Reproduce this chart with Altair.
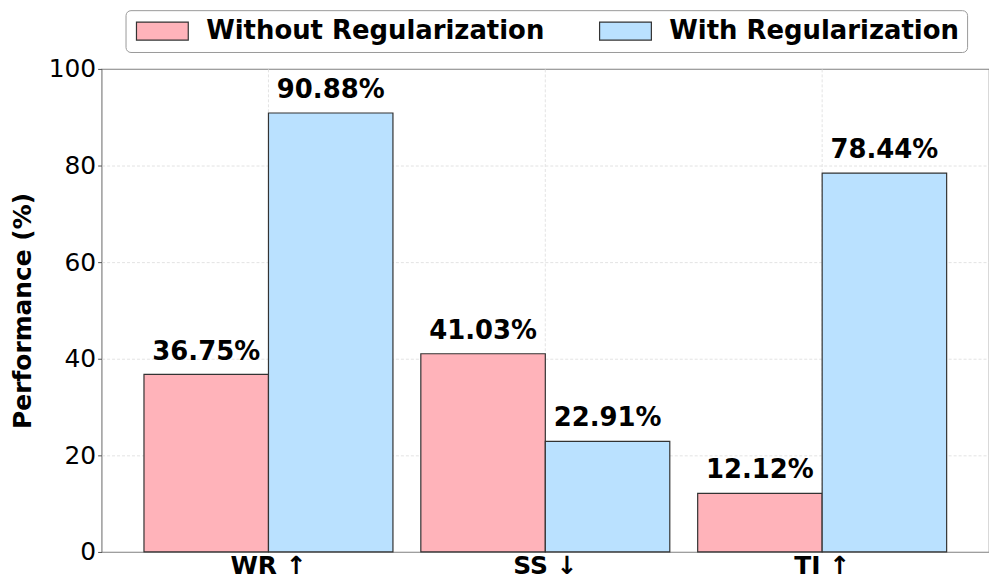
import altair as alt
import pandas as pd

metrics = ["WR ↑", "SS ↓", "TI ↑"]
series = ["Without Regularization", "With Regularization"]
without_vals = [36.75, 41.03, 12.12]
with_vals = [90.88, 22.91, 78.44]
colors = ["#FFB3BA", "#BAE1FF"]

rows = []
for m, a, b in zip(metrics, without_vals, with_vals):
    rows.append({"metric": m, "series": series[0], "value": a, "label": f"{a:.2f}%"})
    rows.append({"metric": m, "series": series[1], "value": b, "label": f"{b:.2f}%"})
df = pd.DataFrame(rows)

FONT = "DejaVu Sans"

x_enc = alt.X("metric:N", sort=metrics,
              scale=alt.Scale(paddingInner=0.1007, paddingOuter=0.153),
              axis=alt.Axis(title=None, labelAngle=0, labelFont=FONT, labelFontSize=25,
                            labelFontWeight="bold", labelColor="black", ticks=False,
                            domain=False, labelPadding=2, bandPosition=0.5,
                            grid=True, gridColor="#e3e3e3", gridDash=[3, 2]))
xoff = alt.XOffset("series:N", sort=series, scale=alt.Scale(paddingInner=0, paddingOuter=0))
y_enc = alt.Y("value:Q", scale=alt.Scale(domain=[0, 100], nice=False),
              axis=alt.Axis(title="Performance (%)", values=[0, 20, 40, 60, 80, 100],
                            labelFont=FONT, labelFontSize=25, labelColor="black",
                            titleFont=FONT, titleFontSize=25, titleFontWeight="bold",
                            titleColor="black", titlePadding=13, domain=False,
                            tickSize=4, tickColor="#555", labelPadding=2,
                            grid=True, gridColor="#e3e3e3", gridDash=[3, 2],
                            gridOpacity={"condition": {"test": "datum.value == 0 || datum.value == 100",
                                                       "value": 0}, "value": 1}))

color_enc = alt.Color("series:N", sort=series,
                      scale=alt.Scale(domain=series, range=colors),
                      legend=alt.Legend(title=None, orient="none", legendX=24, legendY=-59,
                                        direction="horizontal",
                                        symbolType="M-2.6,-0.9H2.6V0.9H-2.6Z", symbolSize=400,
                                        symbolOffset=16,
                                        symbolStrokeColor="#333333", symbolStrokeWidth=1.2,
                                        labelFont=FONT, labelFontSize=26, labelFontWeight="bold",
                                        labelColor="black", labelOffset=31, columnPadding=52,
                                        labelLimit=600, padding=8, cornerRadius=5,
                                        strokeColor="#999999", fillColor="white"))

bars = alt.Chart(df).mark_bar(stroke="#333333", strokeWidth=1.2).encode(
    x=x_enc, xOffset=xoff, y=y_enc, color=color_enc
)

labels = alt.Chart(df).mark_text(font=FONT, fontSize=26, fontWeight="bold", color="black",
                                 baseline="alphabetic", dy=-15).encode(
    x=alt.X("metric:N", sort=metrics), xOffset=xoff, y="value:Q", text="label:N"
)

chart = (bars + labels).properties(
    width=891, height=485,
    autosize=alt.AutoSizeParams(type="none"),
    padding={"left": 94, "top": 60, "right": 0, "bottom": 30},
).configure_view(stroke="#808080", strokeWidth=1.2)

chart.save("out.html", embed_options={"renderer": "svg", "actions": False})
